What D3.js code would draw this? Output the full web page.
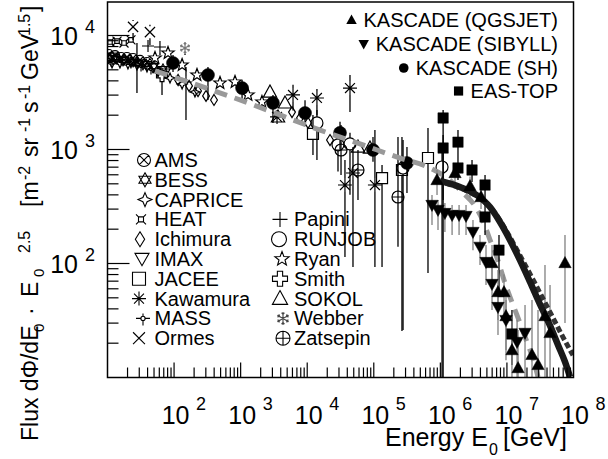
<!DOCTYPE html>
<html><head><meta charset="utf-8">
<script src="https://cdn.jsdelivr.net/npm/d3@7"></script>
<style>
html,body{margin:0;padding:0;background:#fff;}
svg{display:block;font-family:"Liberation Sans",Arial,Helvetica,sans-serif;}
</style></head><body>
<svg id="c" width="608" height="459"></svg>
<script>
// ---------------- DATA (energy in GeV, flux*E^2.5) ----------------
const xDomain = [10, 1e8];
const yDomain = [10, 19670];
const xTickExp = [2, 3, 4, 5, 6, 7, 8];
const yTickExp = [2, 3, 4];

// [E, F, Flow, Fhigh]
const ams = [[10.5,6880],[13.0,6740],[16.0,6480],[19.6,6480],[24.2,6350],[30.8,6100],[39.2,5855]];
const bess = [[10.9,6350],[13.9,6220],[17.7,6100],[22.5,5855],[28.7,5740],[37.9,5620],[49.9,5400],[68.2,5080]];
const caprice = [[11.7,5740],[15.4,5740],[20.3,5620],[27.7,5510],[39.2,5290],[57.4,4780],[86.9,4240],[132,3750],[206,3190]];
const heat = [[10.9,8770],[13.9,8930],[17.7,8590],[22.5,9140]];
const ichimura = [[115,4070],[168,3610],[229,3260],[302,2950],[398,2720],[5910,2130],[7790,1890],[10300,1710],[22000,1210]];
const imax = [[12.1,6100],[17.1,5970],[24.2,5855],[34.1,5510],[48.3,5190],[73.1,4690]];
const jacee = [[12200,1370,895,2010],[133000,562,93.2,731],[265000,661,25.6,1290],[652000,842,82.5,1540]];
const kawamura = [[3520,1930],[6120,3010,2200,3700],[14000,2830,2000,3400],[43900,3460,2130,4500],[36900,488,114,809],[48700,622,93.2,1050],[104000,488,93.2,1480]];
const mass = [[11.3,5970],[16.0,6100],[22.5,5740],[31.9,5400],[45.0,5080]];
const ormes = [[24.2,11900,9120,13700],[43.4,10700,8270,12400]];
const papini = [[27.7,6100,3130,8590],[40.6,8090,7170,9130],[61.4,7930,6740,8770],[151,3910,1815,5290]];
const runjob = [[14000,1710,809,2220],[29000,1100,640,1480],[43900,1120,400,1400],[275000,688,26.1,1210],[1060000,702,10,1100]];
const ryan = [[51.7,6350],[81.1,7020],[132,5510],[221,4500],[490,3830],[823,3910],[1290,3010],[2090,2610]];
const smith = [[65.9,4410,3010,5190]];
const sokol = [[2760,3190],[4640,2560],[3640,1930],[57900,1050],[87700,1030]];
const webber = [[146,7770,6740,8770]];
const zatsepin = [[32200,990,597,1640],[57900,661,361,990],[231000,383,140,1290]];
const kascadeSH = [[96.4,5740,4780,6740],[323,4500,2720,5290],[1050,3460,2720,4070],[3060,2560,1710,3010],[9270,2090,1600,2700],[31100,1400,1000,1750],[97300,990,780,1290],[315000,761,415,1050]];
const easTop = [[1.1e6,1890,10,2220],[1.1e6,1030,361,1340],[1.84e6,1160,809,1480],[1.84e6,688,540,809],[2.99e6,661,519,809],[4.69e6,488,361,597],[4.69e6,256,178,326],[7.6e6,131,58.5,178],[1.19e7,24.1,12.9,39.1]];
const kascadeQGS = [[891000,540,399,661],[1.66e6,622,488,761],[2.79e6,478,380,580],[4.08e6,383,300,470],[5.97e6,101,64.8,145],[7.34e6,56.2,31.9,87.7],[9.04e6,56.2,31.9,80],[9.68e6,34.6,14.2,52.9],[1.19e7,17.4,10,31.9],[1.47e7,12.1,10,26.1],[2.38e7,15.8,10,47.8],[2.93e7,12.9,10,39.1],[3.73e7,34.6,10,97],[4.44e7,24.6,10,64.8],[7.45e7,101,30.1,178]];
const kascadeSIB = [[749000,326,218,399],[922000,295,197,361],[1.17e6,277,189,339],[1.5e6,266,178,326],[1.91e6,266,178,326],[2.43e6,261,178,326],[3.09e6,189,131,241],[3.94e6,140,97,178],[4.85e6,103,64.8,145],[5.97e6,66.1,39.1,97],[7.34e6,41.5,23.6,64.8],[9.68e6,31.9,17.4,47.8],[1.42e7,20.5,10,31.9],[1.87e7,24.6,10,43.3]];
// fit curve (grey dashed) and model curves (dark)
const fitCurve = [[51.8,4890],[245,3610],[977,2720],[3900,2010],[15600,1480],[62100,1120],[248000,841],[700000,689],[1.26e6,563],[2.12e6,424],[3.32e6,319],[4.38e6,236],[5.57e6,161],[7.1e6,112],[9.35e6,67.4],[1.19e7,45.9],[1.57e7,30.1],[2e7,20.5],[2.55e7,13.7],[2.93e7,10.1]];
const modelA = [[989000,530],[1.97e6,469],[3.68e6,391],[5.57e6,313],[7.87e6,231],[1.11e7,161],[1.57e7,107],[2.22e7,68.9],[3.13e7,44],[4.44e7,28.5],[5.85e7,19.3],[7.46e7,13.7],[8.87e7,10.1]];
const modelB = [[1.18e6,508],[2.34e6,441],[4.23e6,361],[6.62e6,277],[1e7,189],[1.47e7,126],[2.22e7,80.9],[3.37e7,50.8],[4.92e7,33.3],[6.95e7,22.6],[9.82e7,15.7]];

const legendLeft = ["AMS","BESS","CAPRICE","HEAT","Ichimura","IMAX","JACEE","Kawamura","MASS","Ormes"];
const legendRight = ["Papini","RUNJOB","Ryan","Smith","SOKOL","Webber","Zatsepin"];
const legendKascade = ["KASCADE (QGSJET)","KASCADE (SIBYLL)","KASCADE (SH)","EAS-TOP"];

// ---------------- DRAWING ----------------
const svg = d3.select("#c");
svg.append("rect").attr("width",608).attr("height",459).attr("fill","#fff");
const L=107.5, R=573.5, T=2, B=377.5;
const x = d3.scaleLog().domain(xDomain).range([L,R]);
const y = d3.scaleLog().domain(yDomain).range([B,T]);

svg.append("clipPath").attr("id","clip").append("rect").attr("x",L).attr("y",T).attr("width",R-L).attr("height",B-T);

function markerPath(type, r){
  const p = d3.path();
  const line=(a,b,c,d)=>{p.moveTo(a,b);p.lineTo(c,d);};
  const circ=(rr)=>{p.moveTo(rr,0);p.arc(0,0,rr,0,2*Math.PI);};
  const poly=(pts)=>{p.moveTo(pts[0][0],pts[0][1]);for(let i=1;i<pts.length;i++)p.lineTo(pts[i][0],pts[i][1]);p.closePath();};
  switch(type){
    case 'ams': {circ(r); const a=r*0.707; line(-a,-a,a,a); line(-a,a,a,-a);} break;
    case 'zatsepin': circ(r); line(-r,0,r,0); line(0,-r,0,r); break;
    case 'runjob': case 'circle': circ(r); break;
    case 'bess': poly([[0,-r],[r*.866,r*.5],[-r*.866,r*.5]]); poly([[0,r],[r*.866,-r*.5],[-r*.866,-r*.5]]); break;
    case 'caprice': {const k=r*.3; poly([[0,-r],[k,-k],[r,0],[k,k],[0,r],[-k,k],[-r,0],[-k,-k]]);} break;
    case 'heat': {const c=r*.5; p.rect(-c,-c,2*c,2*c); line(-c,-c,-r,-r); line(c,-c,r,-r); line(c,c,r,r); line(-c,c,-r,r);} break;
    case 'ichimura': poly([[0,-r],[r*.62,0],[0,r],[-r*.62,0]]); break;
    case 'imax': poly([[-r,-r*.8],[r,-r*.8],[0,r*.95]]); break;
    case 'jacee': case 'square': p.rect(-r,-r,2*r,2*r); break;
    case 'kawamura': {line(0,-r,0,r); line(-r,0,r,0); const a=r*.707; line(-a,-a,a,a); line(-a,a,a,-a);} break;
    case 'mass': {const c=r*.3; circ(c); line(-r,0,-c,0); line(c,0,r,0); line(0,c,0,r); line(0,-c,0,-r*.7);} break;
    case 'ormes': {const a=r*.85; line(-a,-a,a,a); line(-a,a,a,-a);} break;
    case 'papini': line(-r,0,r,0); line(0,-r,0,r); break;
    case 'ryan': {const pts=[]; for(let i=0;i<10;i++){const rr=i%2?r*.42:r; const an=-Math.PI/2+i*Math.PI/5; pts.push([rr*Math.cos(an),rr*Math.sin(an)]);} poly(pts);} break;
    case 'smith': {const w=r*.35; poly([[-w,-r],[w,-r],[w,-w],[r,-w],[r,w],[w,w],[w,r],[-w,r],[-w,w],[-r,w],[-r,-w],[-w,-w]]);} break;
    case 'sokol': case 'triup': poly([[0,-r],[r*.95,r*.72],[-r*.95,r*.72]]); break;
    case 'tridown': poly([[0,r],[r*.95,-r*.72],[-r*.95,-r*.72]]); break;
    case 'webber': {for(let i=0;i<3;i++){const an=Math.PI/2+i*Math.PI/3; const cx=Math.cos(an)*r, cy=Math.sin(an)*r; line(-cx,-cy,cx,cy);
        [1,-1].forEach(s=>{const bx=Math.cos(an)*r*.6*s, by=Math.sin(an)*r*.6*s; const a1=an+ (s>0?0:Math.PI);
          line(bx,by,bx+Math.cos(a1+0.7)*r*.35,by+Math.sin(a1+0.7)*r*.35); line(bx,by,bx+Math.cos(a1-0.7)*r*.35,by+Math.sin(a1-0.7)*r*.35);});}} break;
  }
  return p.toString();
}
const filledTypes = new Set(['triup','tridown','circle','square']);

const direct = [
  {d:bess,t:'bess',r:5},{d:ams,t:'ams',r:4.5},{d:caprice,t:'caprice',r:5},{d:imax,t:'imax',r:5},
  {d:mass,t:'mass',r:5.5},{d:heat,t:'heat',r:4.5},{d:ormes,t:'ormes',r:6},{d:papini,t:'papini',r:6},
  {d:ichimura,t:'ichimura',r:5.5},{d:smith,t:'smith',r:5.5},{d:webber,t:'webber',r:5.5,c:'#777'},
  {d:ryan,t:'ryan',r:6.5},{d:sokol,t:'sokol',r:7},{d:kawamura,t:'kawamura',r:7},{d:zatsepin,t:'zatsepin',r:6},
  {d:runjob,t:'runjob',r:6},{d:jacee,t:'jacee',r:5.5}
];
const indirectSH = {d:kascadeSH,t:'circle',r:6.5};
const kasc = [{d:easTop,t:'square',r:5.2,ec:'#000'},{d:kascadeQGS,t:'triup',r:6.5,ec:'#808080'},{d:kascadeSIB,t:'tridown',r:6.5,ec:'#808080'}];

const plot = svg.append("g").attr("clip-path","url(#clip)");

function drawErrors(g, s){
  s.d.filter(p=>p.length>=4).forEach(p=>{
    const cx=x(p[0]), cy=y(p[1]);
    const gap = filledTypes.has(s.t)?0:s.r;
    const yl=y(p[2]), yh=y(p[3]);
    const col = s.ec||'#000';
    if (yh < cy-gap) g.append("line").attr("x1",cx).attr("x2",cx).attr("y1",yh).attr("y2",cy-gap).attr("stroke",col).attr("stroke-width",1.3);
    if (yl > cy+gap) g.append("line").attr("x1",cx).attr("x2",cx).attr("y1",cy+gap).attr("y2",Math.min(yl,B)).attr("stroke",col).attr("stroke-width",1.3);
  });
}
function drawMarkers(g, s){
  const col = s.c||'#000';
  const f = filledTypes.has(s.t);
  g.selectAll(null).data(s.d).enter().append("path")
    .attr("d", markerPath(s.t, s.r))
    .attr("transform", p=>`translate(${x(p[0])},${y(p[1])})`)
    .attr("fill", f?col:"none").attr("stroke", col).attr("stroke-width", f?0.5:1.2);
}

direct.forEach(s=>drawErrors(plot,s));
drawErrors(plot,indirectSH);
direct.forEach(s=>drawMarkers(plot,s));
drawMarkers(plot,indirectSH);

const ln = d3.line().x(p=>x(p[0])).y(p=>y(p[1])).curve(d3.curveMonotoneX);
plot.append("path").attr("d",ln(fitCurve)).attr("fill","none").attr("stroke","#999").attr("stroke-width",5).attr("stroke-dasharray","13,8");
kasc.forEach(s=>drawErrors(plot,s));
plot.append("path").attr("d",ln(modelB)).attr("fill","none").attr("stroke","#333").attr("stroke-width",5).attr("stroke-dasharray","6,3");
plot.append("path").attr("d",ln(modelA)).attr("fill","none").attr("stroke","#1a1a1a").attr("stroke-width",6.5);
kasc.forEach(s=>drawMarkers(plot,s));

// frame
svg.append("rect").attr("x",L).attr("y",T).attr("width",R-L).attr("height",B-T).attr("fill","none").attr("stroke","#000").attr("stroke-width",1.5);

// ticks
const ax = svg.append("g").attr("stroke","#000").attr("stroke-width",1.2);
for(let d=1; d<8; d++){
  for(let k=1;k<10;k++){
    const v=k*Math.pow(10,d); if(k===1 && d===1) continue;
    const xx=x(v), len = k===1?15:10;
    ax.append("line").attr("x1",xx).attr("x2",xx).attr("y1",B).attr("y2",B-len);
  }
}
for(let d=1; d<5; d++){
  for(let k=1;k<10;k++){
    const v=k*Math.pow(10,d); if(v>yDomain[1]||(k===1&&d===1)) continue;
    const yy=y(v), len = k===1?22:11;
    ax.append("line").attr("x1",L).attr("x2",L+len).attr("y1",yy).attr("y2",yy);
  }
}
// tick labels
xTickExp.forEach(e=>{
  const xx = x(Math.pow(10,e));
  svg.append("text").attr("x",xx-12.4).attr("y",424).attr("font-size",25).text("10");
  svg.append("text").attr("x",xx+22).attr("y",410).attr("font-size",18).text(e);
});
yTickExp.forEach(e=>{
  const yy = y(Math.pow(10,e));
  svg.append("text").attr("x",78).attr("y",yy+9.5).attr("font-size",25).attr("text-anchor","end").text("10");
  svg.append("text").attr("x",85).attr("y",yy-2.5).attr("font-size",18).text(e);
});

// axis titles
const xt = svg.append("g");
xt.append("text").attr("x",385).attr("y",446).attr("font-size",25).text("Energy E");
xt.append("text").attr("x",489).attr("y",454.5).attr("font-size",16).text("0");
xt.append("text").attr("x",503).attr("y",446).attr("font-size",25).text("[GeV]");

const yt = svg.append("g").attr("transform","translate(38,441) rotate(-90)");
const yPieces = [
  ["Flux d\u03A6/dE",0,0,23],["0",109,6,15],["\u00B7",126,0,23],["E",144,0,23],["0",164,6,15],["2.5",188,-8,16],
  ["[m",234,0,23],["-2",261,-8,16],["sr",284,0,23],["-1",309,-8,16],["s",328,0,23],["-1",342,-8,16],
  ["GeV",361,0,23],["1.5",405,-8,16],["]",429,0,23]
];
yPieces.forEach(p=>yt.append("text").attr("x",p[1]).attr("y",p[2]).attr("font-size",p[3]).text(p[0]));

// left legend
const legL = [
  {t:'ams',r:6.5,cx:144},{t:'bess',r:7,cx:145},{t:'caprice',r:7,cx:145},{t:'heat',r:5,cx:141},
  {t:'ichimura',r:7.5,cx:140},{t:'imax',r:7,cx:142},{t:'jacee',r:6.5,cx:139},{t:'kawamura',r:7,cx:139},
  {t:'mass',r:7,cx:143},{t:'ormes',r:7,cx:139}
];
legendLeft.forEach((n,i)=>{
  const by = 167 + 19.8*i;
  svg.append("text").attr("x",154.5).attr("y",by).attr("font-size",20).text(n);
  const s=legL[i];
  svg.append("path").attr("d",markerPath(s.t,s.r)).attr("transform",`translate(${s.cx},${by-7})`).attr("fill","none").attr("stroke","#000").attr("stroke-width",1.1);
});
const legR = [
  {t:'papini',r:7.5,cx:280},{t:'runjob',r:7.5,cx:279},{t:'ryan',r:7.5,cx:282},{t:'smith',r:7.5,cx:280},
  {t:'sokol',r:8,cx:280},{t:'webber',r:6.5,cx:283,c:'#444'},{t:'zatsepin',r:7,cx:283}
];
legendRight.forEach((n,i)=>{
  const by = 167 + 19.8*(i+3);
  svg.append("text").attr("x",294).attr("y",by).attr("font-size",20).text(n);
  const s=legR[i];
  svg.append("path").attr("d",markerPath(s.t,s.r)).attr("transform",`translate(${s.cx},${by-7})`).attr("fill","none").attr("stroke",s.c||"#000").attr("stroke-width",1.1);
});

// KASCADE legend
const kTypes = [['triup',5.5],['tridown',5.5],['circle',4.8],['square',4.6]];
const kBase = [27,51,75,98];
legendKascade.forEach((n,i)=>{
  const t = svg.append("text").attr("x",558).attr("y",kBase[i]).attr("font-size",20).attr("text-anchor","end").text(n);
  const w = t.node().getComputedTextLength();
  svg.append("path").attr("d",markerPath(kTypes[i][0],kTypes[i][1])).attr("transform",`translate(${558-w-12},${kBase[i]-7})`).attr("fill","#000");
});
</script>
</body></html>
